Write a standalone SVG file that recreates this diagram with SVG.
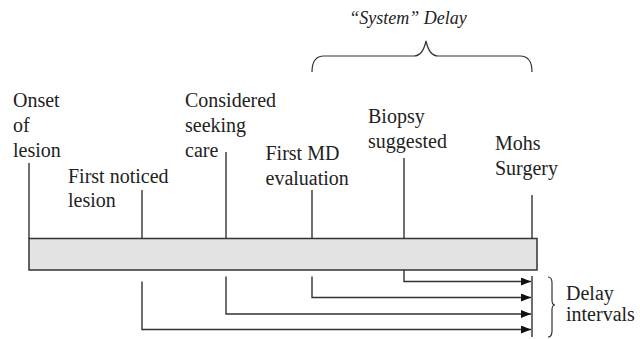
<svg xmlns="http://www.w3.org/2000/svg" width="640" height="339" viewBox="0 0 640 339" font-family="Liberation Serif, Times New Roman, serif">
<defs>
<marker id="ah" markerWidth="10" markerHeight="8" refX="10" refY="4" orient="auto" markerUnits="userSpaceOnUse">
<path d="M0,0 L10,4 L0,8 Z" fill="#111"/>
</marker>
</defs>
<rect width="640" height="339" fill="#fff"/>
<g id="system-delay">
<text x="408" y="24" text-anchor="middle" style="font-family:'Liberation Serif',serif;font-style:italic;font-size:18px;fill:#222">“System” Delay</text>
<path d="M312,72 C312,62 316,56 324,56 L414,56 C420,56 424,50 426,41 C428,50 432,56 438,56 L520,56 C528,56 532,62 532,72" stroke="#333" stroke-width="1.2" fill="none"/>
</g>
<g id="bar">
<rect x="29" y="238.5" width="508" height="31.5" fill="#e3e3e3" stroke="#333" stroke-width="1.5"/>
</g>
<g id="onset">
<text x="13" y="107" style="font-family:'Liberation Serif',serif;font-size:20px;fill:#222">Onset</text>
<text x="13" y="132" style="font-family:'Liberation Serif',serif;font-size:20px;fill:#222">of</text>
<text x="13" y="157" style="font-family:'Liberation Serif',serif;font-size:20px;fill:#222">lesion</text>
<line x1="29" y1="163" x2="29" y2="238.5" stroke="#333" stroke-width="1.4"/>
</g>
<g id="first-noticed">
<text x="68" y="183" style="font-family:'Liberation Serif',serif;font-size:20px;fill:#222">First noticed</text>
<text x="68" y="207" style="font-family:'Liberation Serif',serif;font-size:20px;fill:#222">lesion</text>
<line x1="142" y1="190" x2="142" y2="238.5" stroke="#333" stroke-width="1.4"/>
</g>
<g id="considered">
<text x="185" y="107" style="font-family:'Liberation Serif',serif;font-size:20px;fill:#222">Considered</text>
<text x="185" y="132" style="font-family:'Liberation Serif',serif;font-size:20px;fill:#222">seeking</text>
<text x="185" y="157" style="font-family:'Liberation Serif',serif;font-size:20px;fill:#222">care</text>
<line x1="226" y1="152" x2="226" y2="238.5" stroke="#333" stroke-width="1.4"/>
</g>
<g id="first-md">
<text x="265.5" y="160" style="font-family:'Liberation Serif',serif;font-size:20px;fill:#222">First MD</text>
<text x="265.5" y="185" style="font-family:'Liberation Serif',serif;font-size:20px;fill:#222">evaluation</text>
<line x1="312" y1="190" x2="312" y2="238.5" stroke="#333" stroke-width="1.4"/>
</g>
<g id="biopsy">
<text x="368" y="123" style="font-family:'Liberation Serif',serif;font-size:20px;fill:#222">Biopsy</text>
<text x="368" y="148" style="font-family:'Liberation Serif',serif;font-size:20px;fill:#222">suggested</text>
<line x1="404" y1="158" x2="404" y2="238.5" stroke="#333" stroke-width="1.4"/>
</g>
<g id="mohs">
<text x="495" y="150" style="font-family:'Liberation Serif',serif;font-size:20px;fill:#222">Mohs</text>
<text x="495" y="175" style="font-family:'Liberation Serif',serif;font-size:20px;fill:#222">Surgery</text>
<line x1="532" y1="195" x2="532" y2="238.5" stroke="#333" stroke-width="1.4"/>
</g>
<g id="connectors" stroke="#333" stroke-width="1.4" fill="none">
<path d="M404,270 L404,281.5 L531,281.5" marker-end="url(#ah)"/>
<path d="M312,276.5 L312,297.5 L531,297.5" marker-end="url(#ah)"/>
<path d="M226,276.5 L226,314 L531,314" marker-end="url(#ah)"/>
<path d="M142,281.5 L142,329.5 L531,329.5" marker-end="url(#ah)"/>
<line x1="532" y1="276" x2="532" y2="337"/>
</g>
<g id="delay-intervals">
<path d="M548,277 C551,277 552,279 552,283 L552,300 C552,303 553,305 555,305 C553,305 552,307 552,310 L552,331 C552,335 551,337 548,337" stroke="#333" stroke-width="1.2" fill="none"/>
<text x="566" y="300" style="font-family:'Liberation Serif',serif;font-size:20px;fill:#222">Delay</text>
<text x="566" y="321" style="font-family:'Liberation Serif',serif;font-size:20px;fill:#222">intervals</text>
</g>
</svg>
